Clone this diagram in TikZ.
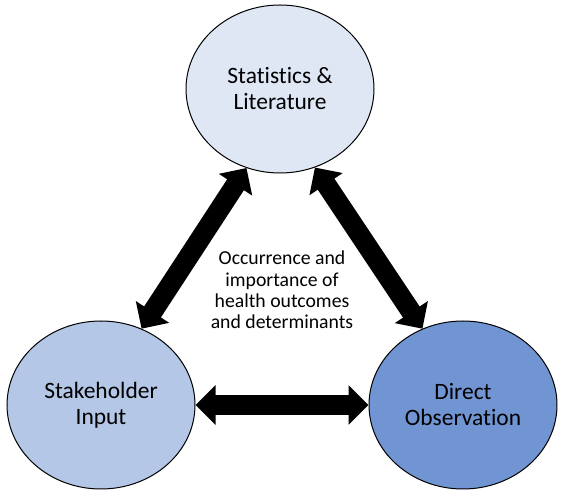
\documentclass[tikz,border=0pt]{standalone}
\usepackage{fontspec}
\setmainfont{Carlito}[Ligatures=NoCommon]
\usetikzlibrary{arrows.meta,shapes.geometric}
\definecolor{litfill}{HTML}{DFE7F5}
\definecolor{stakefill}{HTML}{B4C7E7}
\definecolor{obsfill}{HTML}{7195D3}
\tikzset{
  source/.style={ellipse,draw,line width=0.75pt,inner sep=0pt,
    minimum width=141pt,minimum height=126pt,align=center,
    font=\fontsize{17.6}{19.5}\selectfont},
  bigarrow/.style={line width=15pt,{Triangle[width=29pt,length=15pt]}-{Triangle[width=29pt,length=15pt]}}
}
\begin{document}
\begin{tikzpicture}[x=0.75pt,y=-0.75pt]
\useasboundingbox (0,0) rectangle (565,495);
\node[source,fill=litfill] (lit) at (280,89) {Statistics \&\\Literature};
\node[source,fill=stakefill] (stake) at (101,405) {Stakeholder\\Input};
\node[source,fill=obsfill] (obs) at (463,405) {Direct\\Observation};
\node[align=center,font=\fontsize{14.8}{16}\selectfont] (focus) at (282,290)
  {Occurrence and\\importance of\\health outcomes\\and determinants};
\draw[bigarrow] (lit.247) -- (stake.62);
\draw[bigarrow] (lit.294) -- (obs.118);
\draw[bigarrow] (stake.east) -- (obs.west);
\end{tikzpicture}
\end{document}
